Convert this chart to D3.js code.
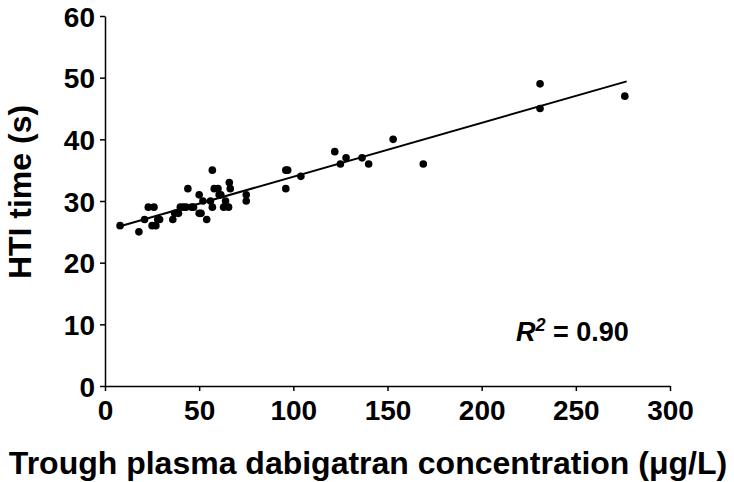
<!DOCTYPE html>
<html>
<head>
<meta charset="utf-8">
<script src="https://cdn.jsdelivr.net/npm/d3@7"></script>
<style>
  html, body { margin: 0; padding: 0; background: #fff; }
  svg { display: block; }
  text { font-family: "Liberation Sans", Arial, sans-serif; font-weight: bold; fill: #000; }
</style>
</head>
<body>
<svg id="chart" width="734" height="482"></svg>
<script>
// Data
const concentration = [8, 18, 21, 23, 26, 25, 27, 28, 29, 36, 37, 39, 40, 41.5, 43, 44, 46, 47, 50, 50, 51, 52, 54, 56, 57, 57, 58, 60, 60.6, 61.5, 63, 64, 65.6, 66, 66.5, 75, 75, 96, 97, 96, 104, 122, 125, 128, 136.5, 140, 153, 169, 231, 231, 276];
const htiTime      = [26, 25, 27, 29, 29, 26, 26, 27, 27, 27, 28, 28, 29, 29, 29, 32, 29, 29, 31, 28, 28, 30, 27, 30, 35, 29, 32, 32, 31, 31, 29, 30, 29, 33, 32, 31, 30, 35, 35, 32, 34, 38, 36, 37, 37, 36, 40, 36, 49, 45, 47];
const fitX = [8, 277];
const fitY = [25.9, 49.4];
const xTicks = [0, 50, 100, 150, 200, 250, 300];
const yTicks = [0, 10, 20, 30, 40, 50, 60];
const xLabel = "Trough plasma dabigatran concentration (μg/L)";
const yLabel = "HTI time (s)";
const r2Value = "0.90";

const svg = d3.select("#chart");
const x = d3.scaleLinear().domain([0, 300]).range([105, 670]);
const y = d3.scaleLinear().domain([0, 60]).range([386, 16]);

// axes
const xAxis = svg.append("g").attr("transform", `translate(0,${y(0)})`)
  .call(d3.axisBottom(x).tickValues(xTicks).tickSize(5).tickSizeOuter(0).tickPadding(5));
const yAxis = svg.append("g").attr("transform", `translate(${x(0)},0)`)
  .call(d3.axisLeft(y).tickValues(yTicks).tickSize(5).tickSizeOuter(0).tickPadding(5));
[xAxis, yAxis].forEach(g => {
  g.selectAll("path.domain").attr("stroke", "#000").attr("stroke-width", 1.5);
  g.selectAll(".tick line").attr("stroke", "#000").attr("stroke-width", 1.5);
  g.selectAll(".tick text").style("font-family", "'Liberation Sans', Arial, sans-serif")
    .style("font-weight", "bold").style("font-size", "28px").attr("fill", "#000");
});
xAxis.selectAll(".tick text").attr("dy", "0.85em");
yAxis.selectAll(".tick text").attr("dy", "0.36em");

// fit line
svg.append("line")
  .attr("x1", x(fitX[0])).attr("y1", y(fitY[0]))
  .attr("x2", x(fitX[1])).attr("y2", y(fitY[1]))
  .attr("stroke", "#000").attr("stroke-width", 2);

// points
svg.append("g").selectAll("circle")
  .data(concentration.map((c, i) => [c, htiTime[i]]))
  .join("circle")
  .attr("cx", d => x(d[0])).attr("cy", d => y(d[1]))
  .attr("r", 3.8).attr("fill", "#000");

// axis titles
svg.append("text").attr("x", 368).attr("y", 474).attr("text-anchor", "middle")
  .style("font-size", "32px").text(xLabel);
svg.append("text").attr("transform", `translate(31,192) rotate(-90)`).attr("text-anchor", "middle")
  .style("font-size", "32px").text(yLabel);

// R² annotation
const r2 = svg.append("text").attr("x", 516).attr("y", 341).style("font-size", "27px");
r2.append("tspan").style("font-style", "italic").text("R");
r2.append("tspan").attr("dy", -10).style("font-size", "18px").style("font-style", "italic").text("2");
r2.append("tspan").attr("dy", 10).text(" = " + r2Value);
</script>
</body>
</html>
